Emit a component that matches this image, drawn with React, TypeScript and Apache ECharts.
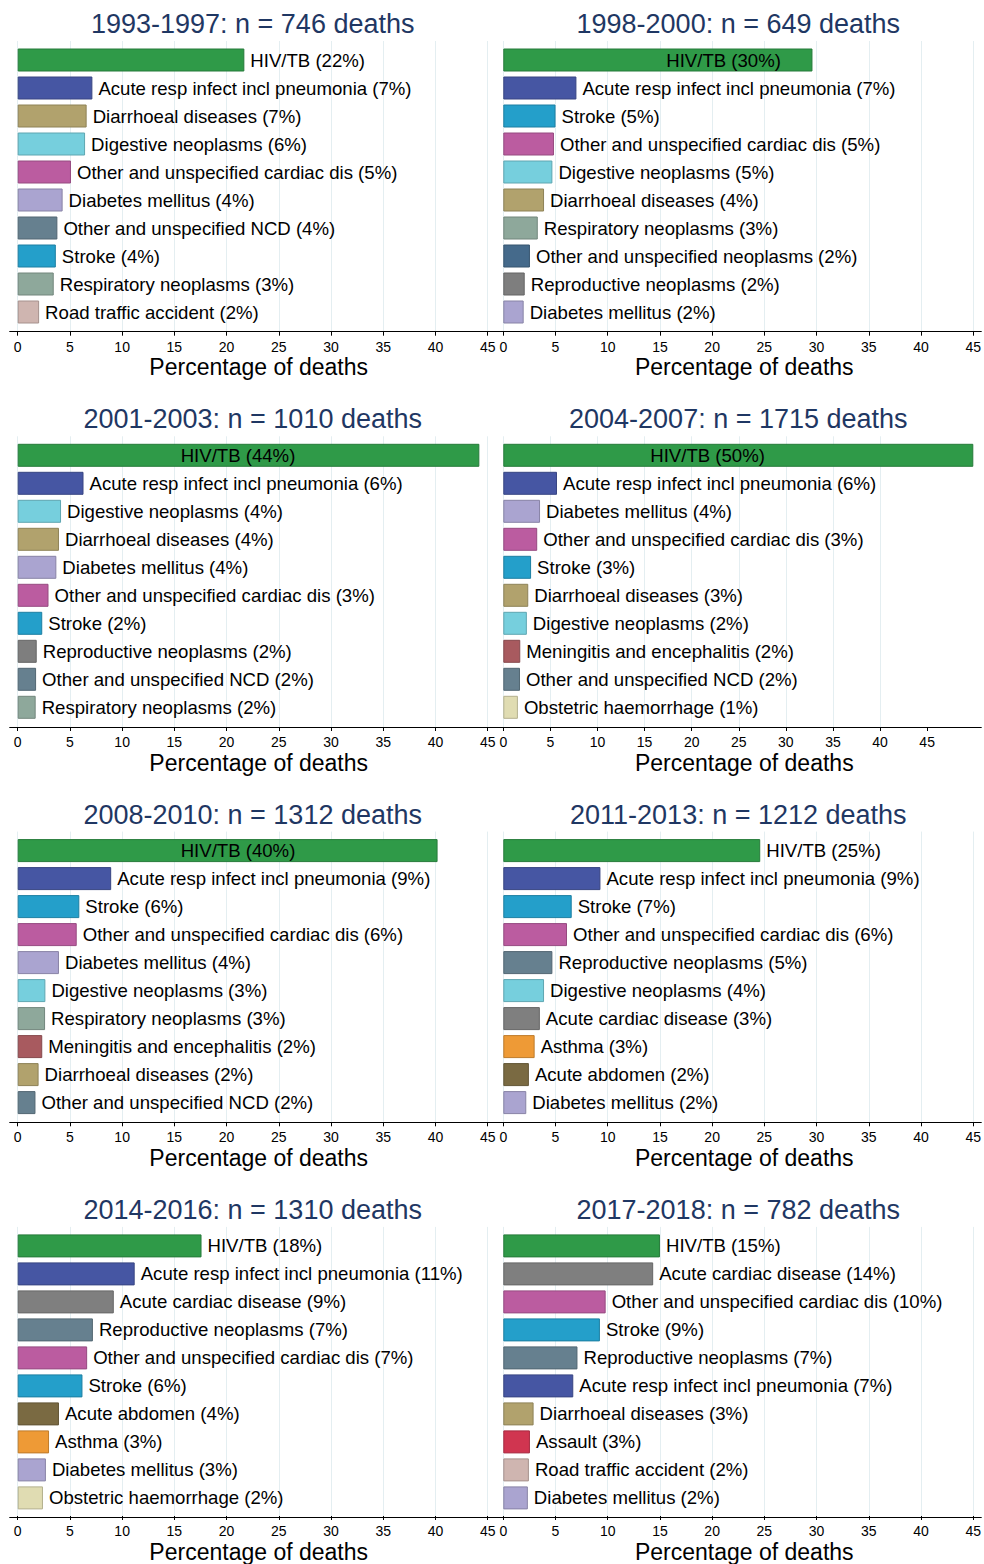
import React, { useEffect, useRef } from 'react';
import * as echarts from 'echarts';

// ---------------- DATA ----------------
const periods = ['1993-1997', '1998-2000', '2001-2003', '2004-2007', '2008-2010', '2011-2013', '2014-2016', '2017-2018'];
const deathCounts = [746, 649, 1010, 1715, 1312, 1212, 1310, 782];

const causes1993 = ['HIV/TB', 'Acute resp infect incl pneumonia', 'Diarrhoeal diseases', 'Digestive neoplasms', 'Other and unspecified cardiac dis', 'Diabetes mellitus', 'Other and unspecified NCD', 'Stroke', 'Respiratory neoplasms', 'Road traffic accident'];
const values1993 = [21.7, 7.15, 6.6, 6.45, 5.1, 4.3, 3.8, 3.65, 3.45, 2.05];
const pct1993 = [22, 7, 7, 6, 5, 4, 4, 4, 3, 2];

const causes1998 = ['HIV/TB', 'Acute resp infect incl pneumonia', 'Stroke', 'Other and unspecified cardiac dis', 'Digestive neoplasms', 'Diarrhoeal diseases', 'Respiratory neoplasms', 'Other and unspecified neoplasms', 'Reproductive neoplasms', 'Diabetes mellitus'];
const values1998 = [29.6, 7.0, 5.0, 4.85, 4.7, 3.9, 3.3, 2.55, 2.05, 1.95];
const pct1998 = [30, 7, 5, 5, 5, 4, 3, 2, 2, 2];

const causes2001 = ['HIV/TB', 'Acute resp infect incl pneumonia', 'Digestive neoplasms', 'Diarrhoeal diseases', 'Diabetes mellitus', 'Other and unspecified cardiac dis', 'Stroke', 'Reproductive neoplasms', 'Other and unspecified NCD', 'Respiratory neoplasms'];
const values2001 = [44.2, 6.3, 4.15, 3.95, 3.7, 2.95, 2.35, 1.82, 1.76, 1.72];
const pct2001 = [44, 6, 4, 4, 4, 3, 2, 2, 2, 2];

const causes2004 = ['HIV/TB', 'Acute resp infect incl pneumonia', 'Diabetes mellitus', 'Other and unspecified cardiac dis', 'Stroke', 'Diarrhoeal diseases', 'Digestive neoplasms', 'Meningitis and encephalitis', 'Other and unspecified NCD', 'Obstetric haemorrhage'];
const values2004 = [49.9, 5.7, 3.9, 3.6, 2.95, 2.65, 2.5, 1.8, 1.77, 1.55];
const pct2004 = [50, 6, 4, 3, 3, 3, 2, 2, 2, 1];

const causes2008 = ['HIV/TB', 'Acute resp infect incl pneumonia', 'Stroke', 'Other and unspecified cardiac dis', 'Diabetes mellitus', 'Digestive neoplasms', 'Respiratory neoplasms', 'Meningitis and encephalitis', 'Diarrhoeal diseases', 'Other and unspecified NCD'];
const values2008 = [40.2, 8.95, 5.9, 5.65, 3.95, 2.65, 2.62, 2.35, 2.0, 1.7];
const pct2008 = [40, 9, 6, 6, 4, 3, 3, 2, 2, 2];

const causes2011 = ['HIV/TB', 'Acute resp infect incl pneumonia', 'Stroke', 'Other and unspecified cardiac dis', 'Reproductive neoplasms', 'Digestive neoplasms', 'Acute cardiac disease', 'Asthma', 'Acute abdomen', 'Diabetes mellitus'];
const values2011 = [24.6, 9.3, 6.55, 6.1, 4.7, 3.9, 3.5, 3.0, 2.45, 2.2];
const pct2011 = [25, 9, 7, 6, 5, 4, 3, 3, 2, 2];

const causes2014 = ['HIV/TB', 'Acute resp infect incl pneumonia', 'Acute cardiac disease', 'Reproductive neoplasms', 'Other and unspecified cardiac dis', 'Stroke', 'Acute abdomen', 'Asthma', 'Diabetes mellitus', 'Obstetric haemorrhage'];
const values2014 = [17.6, 11.2, 9.2, 7.2, 6.65, 6.2, 3.95, 3.0, 2.7, 2.42];
const pct2014 = [18, 11, 9, 7, 7, 6, 4, 3, 3, 2];

const causes2017 = ['HIV/TB', 'Acute cardiac disease', 'Other and unspecified cardiac dis', 'Stroke', 'Reproductive neoplasms', 'Acute resp infect incl pneumonia', 'Diarrhoeal diseases', 'Assault', 'Road traffic accident', 'Diabetes mellitus'];
const values2017 = [15.0, 14.35, 9.8, 9.25, 7.1, 6.7, 2.9, 2.55, 2.45, 2.35];
const pct2017 = [15, 14, 10, 9, 7, 7, 3, 3, 2, 2];

const xTicks = [0, 5, 10, 15, 20, 25, 30, 35, 40, 45];

const panelCauses = [causes1993, causes1998, causes2001, causes2004, causes2008, causes2011, causes2014, causes2017];
const panelValues = [values1993, values1998, values2001, values2004, values2008, values2011, values2014, values2017];
const panelPct = [pct1993, pct1998, pct2001, pct2004, pct2008, pct2011, pct2014, pct2017];

// ---------------- STYLES ----------------
const FONT = "'Liberation Sans', Arial, Helvetica, sans-serif";
const TITLE_COLOR = '#1f3763';
const GRID_COLOR = '#e4eef1';
const causeColors: Record<string, string> = {
  'HIV/TB': '#2f9a48',
  'Acute resp infect incl pneumonia': '#4656a3',
  'Diarrhoeal diseases': '#b1a26d',
  'Digestive neoplasms': '#76cfdd',
  'Other and unspecified cardiac dis': '#bb5ca0',
  'Diabetes mellitus': '#aaa4d0',
  'Other and unspecified NCD': '#66808f',
  'Stroke': '#249fca',
  'Respiratory neoplasms': '#8ea89b',
  'Road traffic accident': '#cfb5b0',
  'Other and unspecified neoplasms': '#456a8b',
  'Reproductive neoplasms': '#66808f',
  'Acute cardiac disease': '#7f7f7f',
  'Meningitis and encephalitis': '#a85a5f',
  'Obstetric haemorrhage': '#e0dcb2',
  'Asthma': '#ee9a36',
  'Acute abdomen': '#7a6a42',
  'Assault': '#d03550',
};
const colorOverrides: Record<number, Record<string, string>> = {
  1: { 'Reproductive neoplasms': '#7e7e7e' },
  2: { 'Reproductive neoplasms': '#7e7e7e' },
};

const COL_LEFT = [17.7, 503.3];
const GRID_W = 470;
const ROW_DY = 395.3;
const INSIDE_LABEL_MIN = 27; // bars longer than this carry their label inside
const INSIDE_LABEL_START = 15.6; // axis value where inside labels start

function darken(hex: string, f = 0.8): string {
  const n = parseInt(hex.slice(1), 16);
  const r = Math.round(((n >> 16) & 255) * f);
  const g = Math.round(((n >> 8) & 255) * f);
  const b = Math.round((n & 255) * f);
  return `rgb(${r},${g},${b})`;
}

function buildOption() {
  const grid: any[] = [];
  const xAxis: any[] = [];
  const yAxis: any[] = [];
  const series: any[] = [];
  const graphic: any[] = [];

  periods.forEach((period, i) => {
    const col = i % 2;
    const row = Math.floor(i / 2);
    const left = COL_LEFT[col];
    const dy = row * ROW_DY;
    const causes = panelCauses[i];
    const values = panelValues[i];
    const pct = panelPct[i];
    const xMax = Math.max(45, ...values);
    const axisY = 331.7 + dy;

    // grid A: bars
    const gA = grid.length;
    grid.push({ left, width: GRID_W, top: 46 + dy, height: 280 });
    xAxis.push({ gridIndex: gA, type: 'value', min: 0, max: xMax, show: false });
    yAxis.push({ gridIndex: gA, type: 'category', inverse: true, data: causes, show: false });

    // grid B: gridlines, ticks, labels, name
    const gB = grid.length;
    grid.push({ left, width: GRID_W, top: 41 + dy, height: axisY - 41 - dy });
    xAxis.push({
      gridIndex: gB,
      type: 'value',
      min: 0,
      max: xMax,
      interval: 5,
      axisLine: { show: false },
      axisTick: { show: true, length: 4, customValues: xTicks, lineStyle: { color: '#000', width: 1 } },
      axisLabel: {
        customValues: xTicks,
        fontSize: 14,
        color: '#000',
        margin: 8,
        fontFamily: FONT,
        formatter: (v: number) => (v % 5 === 0 ? String(v) : ''),
      },
      splitLine: { show: true, showMaxLine: xMax === 45, lineStyle: { color: GRID_COLOR, width: 1 } },
      name: 'Percentage of deaths',
      nameLocation: 'middle',
      nameGap: 24,
      nameTextStyle: { fontSize: 23, color: '#000', fontFamily: FONT, padding: [0, 0, 0, 12] },
    });
    yAxis.push({ gridIndex: gB, type: 'value', show: false });

    // grid C: axis line (extends slightly beyond plot region)
    const gC = grid.length;
    grid.push({ left: left - 8, width: GRID_W + 16, top: axisY - 10, height: 10 });
    xAxis.push({
      gridIndex: gC,
      type: 'value',
      min: 0,
      max: 1,
      axisLine: { show: true, lineStyle: { color: '#000', width: 1 } },
      axisTick: { show: false },
      axisLabel: { show: false },
      splitLine: { show: false },
    });
    yAxis.push({ gridIndex: gC, type: 'value', show: false });

    const insideDist = (INSIDE_LABEL_START / xMax) * GRID_W;
    series.push({
      type: 'bar',
      xAxisIndex: gA,
      yAxisIndex: gA,
      barWidth: 23,
      silent: true,
      emphasis: { disabled: true },
      data: values.map((v, k) => {
        const c = (colorOverrides[i] && colorOverrides[i][causes[k]]) || causeColors[causes[k]];
        const inside = v > INSIDE_LABEL_MIN;
        return {
          value: v,
          itemStyle: { color: c, borderColor: darken(c), borderWidth: 1 },
          label: {
            show: true,
            position: inside ? 'insideLeft' : 'right',
            distance: inside ? insideDist : 6,
            formatter: `${causes[k]} (${pct[k]}%)`,
            fontSize: 18.6,
            fontFamily: FONT,
            color: '#000',
          },
        };
      }),
    });

    graphic.push({
      type: 'text',
      x: left + GRID_W / 2,
      y: 24 + dy,
      silent: true,
      style: {
        text: `${period}: n = ${deathCounts[i]} deaths`,
        textAlign: 'center',
        textVerticalAlign: 'middle',
        font: `27px ${FONT}`,
        fill: TITLE_COLOR,
      },
    });
  });

  return {
    animation: false,
    backgroundColor: '#ffffff',
    grid,
    xAxis,
    yAxis,
    series,
    graphic,
  };
}

export default function App() {
  const ref = useRef<HTMLDivElement>(null);
  useEffect(() => {
    document.body.style.margin = '0';
    if (!ref.current) return;
    const chart = echarts.init(ref.current, null, { renderer: 'svg' });
    chart.setOption(buildOption() as any);
    return () => {
      chart.dispose();
    };
  }, []);
  return (
    <div
      ref={ref}
      style={{ position: 'absolute', left: 0, top: 0, width: 984, height: 1564, background: '#fff' }}
    />
  );
}
